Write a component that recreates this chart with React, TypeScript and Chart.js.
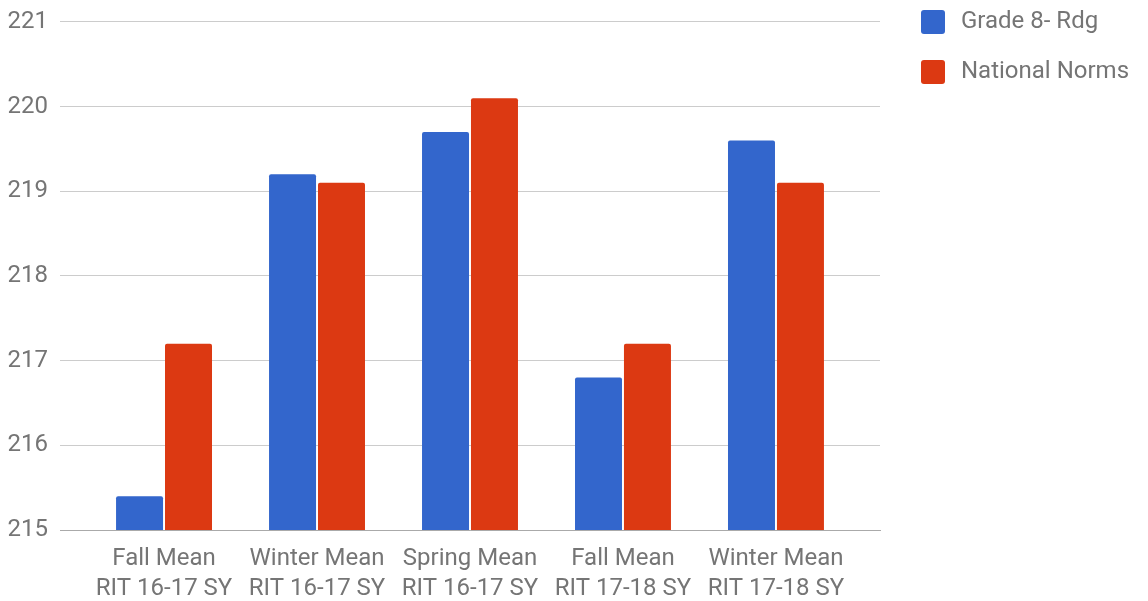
import React, { useEffect, useRef } from "react";
import { Chart, registerables } from "chart.js";

Chart.register(...registerables);

const CATEGORIES = [
  ["Fall Mean", "RIT 16-17 SY"],
  ["Winter Mean", "RIT 16-17 SY"],
  ["Spring Mean", "RIT 16-17 SY"],
  ["Fall Mean", "RIT 17-18 SY"],
  ["Winter Mean", "RIT 17-18 SY"],
];
const GRADE8_RDG = [215.4, 219.2, 219.7, 216.8, 219.6];
const NATIONAL_NORMS = [217.2, 219.1, 220.1, 217.2, 219.1];
const SERIES_NAMES = ["Grade 8- Rdg", "National Norms"];
const SERIES_COLORS = ["#3366cc", "#dc3912"];
const Y_MIN = 215;
const Y_MAX = 221;

const FONT = "Roboto, 'Noto Sans', Arial, sans-serif";
const TEXT = "#757575";

const sideLegend = {
  id: "sideLegend",
  afterDraw(chart: any) {
    const { ctx, chartArea } = chart;
    ctx.save();
    ctx.font = `24px ${FONT}`;
    ctx.textBaseline = "middle";
    ctx.textAlign = "left";
    chart.data.datasets.forEach((ds: any, i: number) => {
      const x = chartArea.right + 41;
      const y = chartArea.top - 12 + i * 50;
      ctx.fillStyle = ds.backgroundColor;
      ctx.beginPath();
      (ctx as any).roundRect(x, y, 24, 24, 3);
      ctx.fill();
      ctx.fillStyle = TEXT;
      ctx.fillText(ds.label, x + 40, y + 12);
    });
    ctx.restore();
  },
};

export default function App() {
  const ref = useRef<HTMLCanvasElement | null>(null);
  useEffect(() => {
    if (!ref.current) return;
    const toPts = (arr: number[]) => arr.map((y, i) => ({ x: i, y }));
    const chart = new Chart(ref.current, {
      type: "bar",
      data: {
        datasets: [GRADE8_RDG, NATIONAL_NORMS].map((vals, k) => ({
          label: SERIES_NAMES[k],
          data: toPts(vals),
          backgroundColor: SERIES_COLORS[k],
          borderRadius: { topLeft: 2, topRight: 2 },
          borderSkipped: "bottom",
          categoryPercentage: 0.64,
          barPercentage: 0.96,
        })) as any,
      },
      options: {
        animation: false,
        responsive: true,
        maintainAspectRatio: false,
        layout: { padding: { top: 4, right: 268, left: 0, bottom: 0 } },
        plugins: {
          tooltip: { enabled: false },
          legend: { display: false },
        },
        scales: {
          x: {
            type: "linear",
            min: -0.68,
            max: 4.68,
            offset: false,
            grid: { display: false },
            border: { display: true, color: "#aaaaaa", width: 1 },
            afterBuildTicks: (axis: any) => {
              axis.ticks = CATEGORIES.map((_, i) => ({ value: i }));
            },
            afterFit: (axis: any) => {
              axis.height = 71;
            },
            ticks: {
              autoSkip: false,
              maxRotation: 0,
              padding: 6,
              color: TEXT,
              font: { family: FONT, size: 24, lineHeight: 1.24 },
              callback: (v: any) => CATEGORIES[Math.round(Number(v))] ?? "",
            },
          },
          y: {
            min: Y_MIN,
            max: Y_MAX,
            border: { display: false },
            grid: { color: "#cccccc", drawTicks: false },
            afterFit: (axis: any) => {
              axis.width = 60;
            },
            ticks: {
              stepSize: 1,
              padding: 12,
              color: TEXT,
              font: { family: FONT, size: 24, lineHeight: 0.83 },
            },
          },
        },
      } as any,
      plugins: [sideLegend],
    });
    return () => chart.destroy();
  }, []);
  return (
    <div style={{ position: "absolute", left: 0, top: 0, width: 1148, height: 601, background: "#fff" }}>
      <canvas ref={ref} />
    </div>
  );
}
